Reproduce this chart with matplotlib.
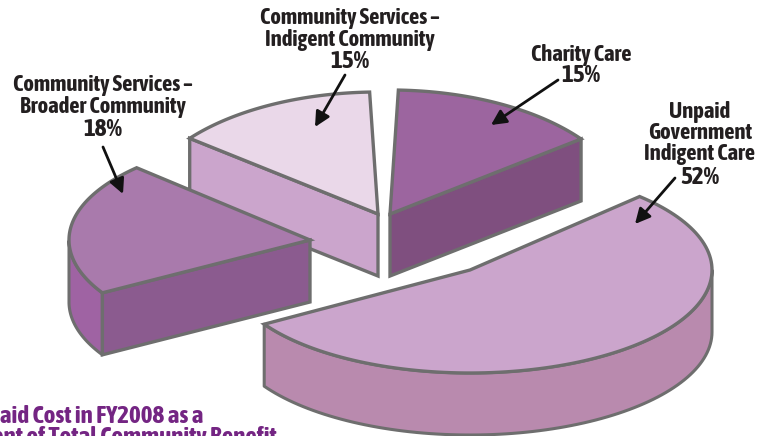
import numpy as np
import matplotlib
matplotlib.use('Agg')
import matplotlib.pyplot as plt
from matplotlib.patches import Polygon

plt.rcParams['font.family'] = ['Asap Condensed', 'Liberation Sans', 'DejaVu Sans']

# data
categories = ['Community Services –\nIndigent Community', 'Charity Care',
              'Community Services –\nBroader Community', 'Unpaid\nGovernment\nIndigent Care']
shares = [15, 15, 18, 52]

# drawing order is back to front, each slice is exploded by hand
# cx, cy = apex in pixels, start = rim angle where the slice starts (screen degrees, ccw)
# stretch = perspective distortion of the angle
layout = [
    dict(cx=378, cy=214, rx=240, ry=122, start=92, stretch=0.92, top='#ead8e9', cut='#cba5cc', rim='#cba5cc', cut_at='end'),
    dict(cx=390, cy=214, rx=240, ry=124, start=88, stretch=-0.94, top='#9c659f', cut='#7f4f7f', rim='#7f4f7f', cut_at='end'),
    dict(cx=310, cy=240, rx=241, ry=104, start=136, stretch=1.15, top='#a97aac', cut='#8b5b8f', rim='#9f63a3', cut_at='end'),
    dict(cx=470, cy=270, rx=242, ry=103, start=45.5, stretch=-1.035, top='#cba5cc', cut='#b98aae', rim='#b98aae', cut_at=None),
]
depth = 62
edge = '#6e6e6e'

# x of label, y of each line (last one is the percent)
label_pos = [(350, [18, 40, 61]), (581, [55, 75]), (103, [85, 107, 129]), (700, [112, 133, 154, 177])]
arrows = [((345, 75), (315, 127)), ((558, 80), (491, 125)),
          ((103, 147), (123, 194)), ((675, 178), (635, 224))]

fig = plt.figure(figsize=(7.7, 4.36), dpi=100)
ax = fig.add_axes([0, 0, 1, 1])
ax.set_xlim(0, 770)
ax.set_ylim(436, 0)
ax.axis('off')


def rim_xy(s, deg):
    t = np.radians(deg)
    return s['cx'] + s['rx'] * np.cos(t), s['cy'] - s['ry'] * np.sin(t)


for share, s in zip(shares, layout):
    end = s['start'] + share * 3.6 * s['stretch']
    angles = np.linspace(s['start'], end, 120)
    x, y = rim_xy(s, angles)

    # outer wall, only the part of the rim facing the viewer
    front = np.sin(np.radians(angles)) <= 0
    if front.any():
        fx, fy = x[front], y[front]
        wall = np.r_[np.c_[fx, fy], np.c_[fx[::-1], fy[::-1] + depth]]
        ax.add_patch(Polygon(wall, fc=s['rim'], ec=edge, lw=2.2, joinstyle='round'))

    # cut face from apex to the end of the rim
    if s['cut_at']:
        cut = [(s['cx'], s['cy']), (x[-1], y[-1]), (x[-1], y[-1] + depth), (s['cx'], s['cy'] + depth)]
        ax.add_patch(Polygon(cut, fc=s['cut'], ec=edge, lw=2.4, joinstyle='miter'))

    top = np.r_[[[s['cx'], s['cy']]], np.c_[x, y]]
    ax.add_patch(Polygon(top, fc=s['top'], ec=edge, lw=2.4, joinstyle='miter'))

for cat, share, (lx, ly), (a, b) in zip(categories, shares, label_pos, arrows):
    for line, yy in zip(cat.split('\n'), ly):
        ax.text(lx, yy, line, ha='center', va='center', fontsize=16.3, fontweight='bold', color='#231f20')
    ax.text(lx, ly[-1], f'{share}%', ha='center', va='center', fontsize=18, fontweight='bold', color='#231f20')
    ax.annotate('', xy=b, xytext=a,
                arrowprops=dict(arrowstyle='-|>,head_length=0.9,head_width=0.45', color='#111111',
                                lw=2, shrinkA=0, shrinkB=0))

ax.text(203, 423, 'Unpaid Cost in FY2008 as a', ha='right', va='baseline', fontsize=18,
        fontweight='bold', color='#742583')
ax.text(277, 444, 'Percent of Total Community Benefit', ha='right', va='baseline', fontsize=18,
        fontweight='bold', color='#742583')

fig.savefig('out.png', dpi=100)
